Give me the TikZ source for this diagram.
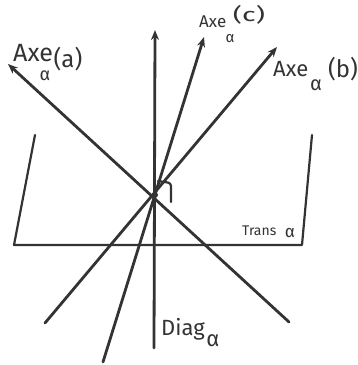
\documentclass[tikz,border=0pt]{standalone}
\usepackage{fontspec}
\setmainfont{Fira Sans}
\usetikzlibrary{arrows.meta}
\definecolor{ink}{HTML}{333333}
\begin{document}
\begin{tikzpicture}[x=1pt,y=-1pt, line cap=round, line join=round,
  stroke/.style={draw=ink, line width=2.8pt},
  thin stroke/.style={draw=ink, line width=2.2pt},
  arr/.style={stroke, -{Stealth[length=10pt,width=8pt]}},
  lab/.style={text=ink, inner sep=0pt, anchor=base west},
  sym/.style={text=ink, inner sep=0pt, anchor=center}]
\useasboundingbox (0,0) rectangle (358,365);
% key points
\coordinate (O) at (155,195);
\coordinate (Vtop) at (155,30);
\coordinate (Vbot) at (154,348);
\coordinate (Atip) at (8,64);
\coordinate (Aend) at (289,322);
\coordinate (Ctip) at (204,37);
\coordinate (Cend) at (103,362);
\coordinate (Btip) at (277,47);
\coordinate (Bend) at (45,323);
% transversal bracket
\coordinate (T1) at (35,135);
\coordinate (T2) at (14,245);
\coordinate (T3) at (302,245);
\coordinate (T4) at (312,135);
\draw[thin stroke] (T1) -- (T2) -- (T3) -- (T4);
% axes
\draw[arr] (Vbot) -- (Vtop);
\draw[arr] (Aend) -- (Atip);
\draw[arr] (Cend) -- (Ctip);
\draw[arr] (Bend) -- (Btip);
% small mark at the centre
\coordinate (H1) at (158,181);
\coordinate (H2) at (171,183);
\coordinate (H3) at (171,202);
\draw[thin stroke, rounded corners=3pt] (H1) -- (H2) -- (H3);
\fill[ink] (O) circle (3pt);
% labels
\node[lab, font=\fontsize{25}{25}\selectfont] (la) at (13,61) {Axe};
\node[sym, font=\fontsize{18}{18}\selectfont] (laa) at (45,76) {α};
\node[sym, font=\fontsize{24}{24}\selectfont] (lab) at (68,59) {(a)};
\node[lab, font=\fontsize{17}{17}\selectfont] (lc) at (199,27) {Axe};
\node[sym, font=\fontsize{15}{15}\selectfont] (lca) at (230,39) {α};
\node[sym, font=\fontsize{19}{19}\selectfont] (lcb) at (249,15) {\scalebox{1.5}[1]{(c)}};
\node[lab, font=\fontsize{22}{22}\selectfont] (lb) at (273,76) {Axe};
\node[sym, font=\fontsize{20}{20}\selectfont] (lba) at (316,85) {α};
\node[sym, font=\fontsize{24}{24}\selectfont] (lbb) at (343,69) {(b)};
\node[lab, font=\fontsize{22}{22}\selectfont] (ld) at (161,335) {Diag};
\node[sym, font=\fontsize{22}{22}\selectfont] (lda) at (213,341) {α};
\node[lab, font=\fontsize{14}{14}\selectfont] (lt) at (242,235) {Trans};
\node[sym, font=\fontsize{17}{17}\selectfont] (lta) at (290,233) {α};
\end{tikzpicture}
\end{document}
